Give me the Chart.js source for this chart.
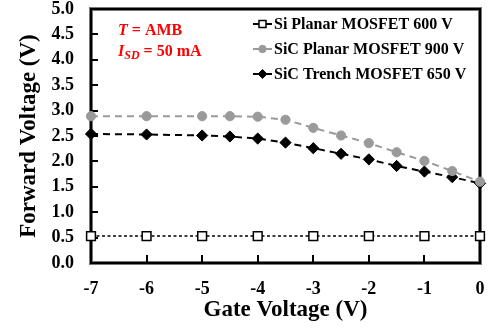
<!DOCTYPE html>
<html>
<head>
<meta charset="utf-8">
<script src="https://cdn.jsdelivr.net/npm/chart.js@4.4.1/dist/chart.umd.min.js"></script>
<style>
  html, body { margin: 0; padding: 0; background: #fff; }
  #wrap { width: 488px; height: 328px; position: relative; }
</style>
</head>
<body>
<div id="wrap"><canvas id="c" width="488" height="328"></canvas></div>
<script>
// Gate voltage sweep points (V)
const gateFull = [-7, -6, -5, -4.5, -4, -3.5, -3, -2.5, -2, -1.5, -1, -0.5, 0];
const gateInt = [-7, -6, -5, -4, -3, -2, -1, 0];

// Forward voltage of the body diode (V)
const siPlanar600 = [0.53, 0.53, 0.53, 0.53, 0.53, 0.53, 0.53, 0.53];
const sicPlanar900 = [2.89, 2.89, 2.89, 2.89, 2.88, 2.82, 2.66, 2.51, 2.36, 2.18, 2.01, 1.81, 1.60];
const sicTrench650 = [2.54, 2.53, 2.51, 2.49, 2.45, 2.37, 2.26, 2.15, 2.04, 1.91, 1.80, 1.69, 1.57];

const seriesNames = ['Si Planar MOSFET 600 V', 'SiC Planar MOSFET 900 V', 'SiC Trench MOSFET 650 V'];
const yTickValues = [0, 0.5, 1, 1.5, 2, 2.5, 3, 3.5, 4, 4.5, 5];
const xTickValues = [-7, -6, -5, -4, -3, -2, -1, 0];

const SERIF = '"Liberation Serif", "Times New Roman", serif';
const GRAY = '#9a9a9a';

const toXY = (xs, ys) => xs.map((x, i) => ({ x, y: ys[i] }));

function marker(ctx, ds, x, y, scale) {
  ctx.save();
  ctx.setLineDash([]);
  ctx.fillStyle = ds.pointBackgroundColor;
  ctx.strokeStyle = ds.pointBorderColor;
  ctx.lineWidth = ds.pointBorderWidth;
  Chart.helpers.drawPoint(ctx, {
    pointStyle: ds.pointStyle,
    radius: ds.pointRadius * scale,
    borderWidth: ds.pointBorderWidth
  }, x, y);
  ctx.restore();
}

// Closed frame with inward ticks, drawn before the series so markers sit on top
const frame = {
  id: 'frame',
  beforeDatasetsDraw(chart) {
    const { ctx, chartArea: a, scales } = chart;
    const L = Math.round(a.left), R = Math.round(a.right);
    const T = Math.round(a.top), B = Math.round(a.bottom);
    ctx.save();
    // soft outer edge
    ctx.fillStyle = '#777';
    ctx.fillRect(L - 2, T - 2, R - L + 4, 4);
    ctx.fillRect(L - 2, B - 2, R - L + 4, 4);
    ctx.fillRect(L - 2, T - 2, 4, B - T + 4);
    ctx.fillRect(R - 2, T - 2, 4, B - T + 4);
    // dark core
    ctx.fillStyle = '#000';
    ctx.fillRect(L - 1, T - 1, R - L + 2, 2);
    ctx.fillRect(L - 1, B - 1, R - L + 2, 2);
    ctx.fillRect(L - 1, T - 1, 2, B - T + 2);
    ctx.fillRect(R - 1, T - 1, 2, B - T + 2);
    ctx.fillStyle = '#000';
    yTickValues.forEach(v => {
      const y = Math.round(scales.y.getPixelForValue(v));
      ctx.fillRect(L, y - 1, 7, 2);
    });
    xTickValues.forEach(v => {
      const x = Math.round(scales.x.getPixelForValue(v));
      ctx.fillRect(x - 1, B - 8, 2, 8);
    });
    ctx.restore();
  }
};

// In-plot legend and the test-condition note
const notes = {
  id: 'notes',
  afterDraw(chart) {
    const { ctx } = chart;
    const lx0 = 253, lx1 = 272, tx = 274;
    const rows = [24, 49, 74];
    chart.data.datasets.forEach((ds, i) => {
      const y = rows[i];
      ctx.save();
      ctx.fillStyle = ds.borderColor;
      ctx.fillRect(lx0, y - 1, lx1 - lx0, 2);
      ctx.restore();
      marker(ctx, ds, (lx0 + lx1) / 2, y, 0.8);
      ctx.save();
      ctx.fillStyle = '#000';
      ctx.font = 'bold 16px ' + SERIF;
      ctx.textBaseline = 'middle';
      ctx.textAlign = 'left';
      ctx.fillText(seriesNames[i], tx, y + 1);
      ctx.restore();
    });

    ctx.save();
    ctx.fillStyle = '#ff0000';
    ctx.textBaseline = 'alphabetic';
    ctx.textAlign = 'left';
    let x = 118, y = 35;
    ctx.font = 'italic bold 16px ' + SERIF;
    ctx.fillText('T', x, y);
    x += ctx.measureText('T').width;
    ctx.font = 'bold 16px ' + SERIF;
    ctx.fillText(' = AMB', x, y);

    x = 118; y = 56;
    ctx.font = 'italic bold 16px ' + SERIF;
    ctx.fillText('I', x, y);
    x += ctx.measureText('I').width;
    ctx.font = 'italic bold 12px ' + SERIF;
    ctx.fillText('SD', x, y + 3);
    x += ctx.measureText('SD').width;
    ctx.font = 'bold 16px ' + SERIF;
    ctx.fillText(' = 50 mA', x, y);
    ctx.restore();
  }
};

new Chart(document.getElementById('c'), {
  type: 'line',
  data: {
    datasets: [
      {
        label: seriesNames[0],
        data: toXY(gateInt, siPlanar600),
        borderColor: '#000',
        borderWidth: 1.5,
        borderDash: [3, 2.5],
        pointStyle: 'rect',
        pointRadius: 6.2,
        pointBackgroundColor: '#fff',
        pointBorderColor: '#000',
        pointBorderWidth: 1.5
      },
      {
        label: seriesNames[1],
        data: toXY(gateFull, sicPlanar900),
        borderColor: GRAY,
        borderWidth: 2,
        borderDash: [7, 5],
        pointStyle: 'circle',
        pointRadius: 4.6,
        pointBackgroundColor: GRAY,
        pointBorderColor: GRAY,
        pointBorderWidth: 1
      },
      {
        label: seriesNames[2],
        data: toXY(gateFull, sicTrench650),
        borderColor: '#000',
        borderWidth: 2,
        borderDash: [7, 5],
        pointStyle: 'rectRot',
        pointRadius: 5.6,
        pointBackgroundColor: '#000',
        pointBorderColor: '#000',
        pointBorderWidth: 1
      }
    ]
  },
  options: {
    responsive: false,
    animation: false,
    clip: false,
    layout: { padding: { top: 9, right: 8, left: 0, bottom: 0 } },
    plugins: {
      legend: { display: false },
      tooltip: { enabled: false }
    },
    scales: {
      x: {
        type: 'linear',
        min: -7, max: 0,
        afterFit: s => { s.height = 65; s.paddingLeft = 0; s.paddingRight = 0; },
        afterBuildTicks: s => { s.ticks = xTickValues.map(v => ({ value: v })); },
        grid: { display: false, drawTicks: false },
        border: { display: false },
        ticks: {
          color: '#000',
          padding: 16,
          maxRotation: 0,
          font: { family: SERIF, size: 18, weight: 'bold' },
          callback: v => String(v)
        },
        title: {
          display: true,
          text: 'Gate Voltage (V)',
          color: '#000',
          padding: { top: 0, bottom: 4 },
          font: { family: SERIF, size: 23, weight: 'bold' }
        }
      },
      y: {
        min: 0, max: 5,
        afterFit: s => { s.width = 91; s.paddingTop = 0; s.paddingBottom = 0; },
        afterBuildTicks: s => { s.ticks = yTickValues.map(v => ({ value: v })); },
        grid: { display: false, drawTicks: false },
        border: { display: false },
        ticks: {
          color: '#000',
          padding: 17,
          font: { family: SERIF, size: 18, weight: 'bold' },
          callback: v => Number(v).toFixed(1)
        },
        title: {
          display: true,
          text: 'Forward Voltage (V)',
          color: '#000',
          padding: { top: 15, bottom: 0 },
          font: { family: SERIF, size: 23, weight: 'bold' }
        }
      }
    }
  },
  plugins: [frame, notes]
});
</script>
</body>
</html>
